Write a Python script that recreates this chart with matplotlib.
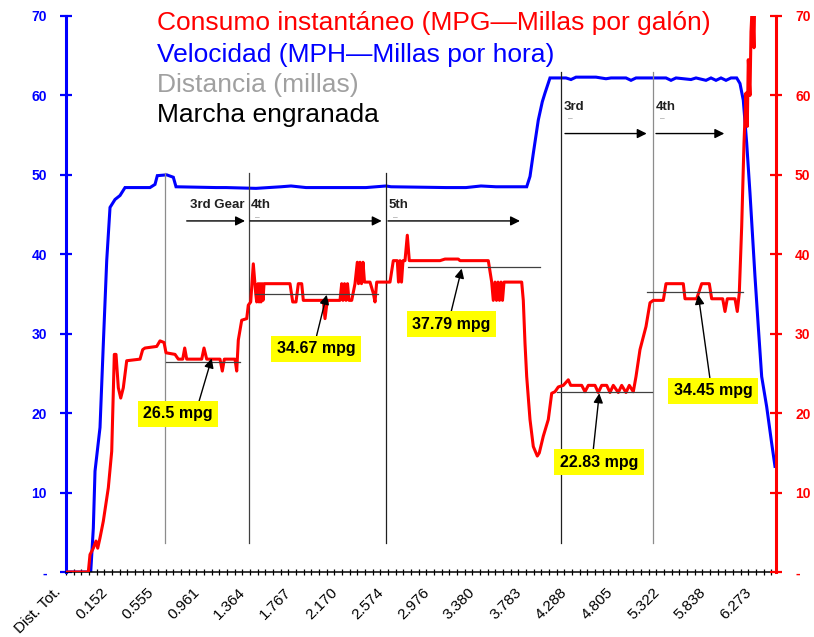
import matplotlib.pyplot as plt
import numpy as np
from matplotlib.transforms import ScaledTranslation

# -----------------------------------------------------------------------------------------------
# Fuente (equivalente métrico de Arial).
plt.rcParams['font.family'] = ['Liberation Sans', 'DejaVu Sans']

# -----------------------------------------------------------------------------------------------
# DATOS
# Eje x: índice de registro (una etiqueta cada 46 registros).
etiquetas_x = ["Dist. Tot.", "0.152", "0.555", "0.961", "1.364", "1.767", "2.170", "2.574",
               "2.976", "3.380", "3.783", "4.288", "4.805", "5.322", "5.838", "6.273"]

# Velocidad (MPH).
vel_x = [0, 24.7, 27.3, 29, 34, 37.3, 40.7, 44, 49, 54, 59, 84, 89, 91.3, 100.7, 107.3, 110,
         150, 160, 190, 215, 225, 240, 300, 320, 325, 380, 400, 415, 430, 455, 460.7, 464,
         467.3, 472.3, 476.3, 479, 484, 500, 505, 510, 530, 540, 545, 560, 565, 570, 600,
         605, 610, 625, 630, 640, 645, 650, 655, 660, 665, 670.7, 674, 677.3, 680.7, 684,
         689, 692.3, 695.7, 700.7, 705.7, 709]
vel_mph = [0, 0, 5.5, 12.7, 18.2, 28.7, 39.2, 45.9, 46.9, 47.4, 48.4, 48.4, 48.8, 49.9, 50.0,
           49.7, 48.5, 48.4, 48.4, 48.3, 48.5, 48.6, 48.4, 48.4, 48.6, 48.5, 48.4, 48.4, 48.6,
           48.5, 48.5, 48.5, 49.8, 52.7, 56.9, 59.2, 60.3, 62.2, 62.2, 62.0, 62.3, 62.3, 62.1,
           62.2, 62.2, 61.9, 62.2, 62.2, 61.9, 62.2, 62.0, 62.2, 61.9, 62.2, 61.9, 62.2, 61.9,
           62.2, 62.2, 61.5, 59.4, 54.0, 47.7, 37.2, 30.9, 24.6, 20.8, 16.2, 13.3]

# Consumo instantáneo (MPG).
mpg_x = [0, 22.3, 24, 27.3, 30, 31.7, 34, 37.3, 42.3, 45.7, 47.3, 48.3, 50, 52.3, 54.7, 57.3,
         60.7, 74, 76.7, 79, 90.7, 94, 98, 100, 109, 112.3, 116.7, 118.7, 120.7, 135.7, 138,
         140.7, 154, 156.3, 158.3, 169, 170.7, 172.3, 175.7, 180.7, 182.3, 184.7, 187.3, 189.7,
         190.7, 192, 193, 194, 195, 196, 197, 198, 224, 226.7, 230, 232.3, 235.7, 237.3, 257.3,
         259, 261.3, 274, 275.7, 277, 278.5, 280, 281.5, 283, 285.7, 289, 291.3, 292.5, 294,
         295.5, 297, 298.5, 304, 307.3, 309, 310.7, 324, 327.3, 331.3, 332.5, 334, 335.5, 337,
         339, 341.3, 343.3, 374, 379, 392.3, 394, 422.3, 425.7, 427.3, 429, 430.5, 432, 433.5,
         435, 436.5, 438, 440, 455.7, 457.3, 459, 460.7, 464, 467.3, 471.3, 473.3, 477.3,
         482.3, 485.7, 489, 492.3, 497.3, 502.3, 504.7, 515.7, 519, 522.3, 529, 532.3, 535.7,
         540.7, 544, 547.3, 552.3, 555.7, 560, 563.3, 567.3, 570, 574, 580, 584, 587.3, 597.3,
         600, 617.3, 619, 630.7, 635.7, 643.3, 645.7, 656.7, 659, 661.3, 669, 671.3, 673.3,
         675.7, 678, 680, 681.3, 682.3, 684, 685, 686.5, 688, 689]
mpg_val = [0, 0, 2.2, 3.0, 3.9, 3.0, 4.3, 6.4, 10.6, 15.2, 22.4, 27.4, 27.4, 23.2, 21.9, 23.2,
           26.6, 26.8, 28.0, 28.2, 28.4, 29.1, 28.9, 27.6, 27.4, 26.8, 26.8, 28.2, 26.8, 26.8,
           28.2, 26.8, 26.8, 25.3, 26.8, 26.8, 25.3, 29.2, 31.7, 31.9, 33.6, 34.0, 38.8, 35.1,
           34.0, 36.3, 34.0, 36.3, 34.0, 36.3, 34.2, 36.3, 36.3, 34.0, 34.0, 36.3, 36.3, 34.2,
           34.2, 31.9, 34.2, 34.2, 36.3, 34.2, 36.3, 34.2, 36.3, 34.2, 34.2, 36.3, 39.0, 36.3,
           39.0, 36.3, 39.0, 36.5, 36.5, 35.1, 34.0, 36.5, 36.5, 39.2, 39.2, 36.5, 39.2, 36.5,
           39.2, 39.2, 42.4, 39.2, 39.2, 39.4, 39.4, 39.2, 39.2, 36.5, 34.2, 36.5, 34.2, 36.5,
           34.2, 36.5, 34.2, 36.5, 36.5, 36.5, 34.2, 28.8, 24.6, 19.2, 15.8, 14.6, 15.0, 17.1,
           19.2, 22.5, 22.7, 23.3, 23.5, 24.2, 23.5, 23.5, 22.7, 23.5, 23.5, 22.6, 23.5, 23.5,
           22.6, 23.5, 22.6, 23.5, 22.6, 23.5, 22.7, 24.6, 28.0, 30.9, 33.9, 34.2, 34.2, 36.3,
           36.3, 34.4, 34.4, 36.3, 36.3, 34.4, 34.4, 32.8, 34.4, 34.4, 32.8, 35.1, 43.5, 54.0,
           60.3, 56.1, 64.5, 60.0, 68.0, 72.0, 66.0, 75.0]

# Cambios de marcha (líneas verticales).
cambio_x = [99, 182.5, 320, 495, 587]
cambio_sup = [50.2, 50.2, 50.2, 62.9, 62.9]
cambio_inf = 3.65

# Etiquetas de marcha y flechas.
marcha_txt = ["3rd Gear", "4th", "5th", "3rd", "4th"]
marcha_x = [124, 184.7, 323, 498, 590]
marcha_y = [46.2, 46.2, 46.2, 58.6, 58.6]
flecha_x0 = [120.7, 184, 322, 499, 590]
flecha_x1 = [179, 315.7, 454, 580.7, 658.3]
flecha_y = [44.2, 44.2, 44.2, 55.2, 55.2]

# Consumos promedio por tramo.
prom_txt = ["26.5 mpg", "34.67 mpg", "37.79 mpg", "22.83 mpg", "34.45 mpg"]
prom_x0 = [100, 189, 342, 490.7, 580.7]
prom_x1 = [174, 312, 474, 585.7, 676.7]
prom_y = [26.4, 35.0, 38.4, 22.7, 35.2]
punta_x = [145.7, 260.7, 395.7, 533.3, 632.3]
punta_y = [26.9, 34.9, 38.2, 22.5, 34.9]
caja_x = [112, 250, 385.5, 533, 647]
caja_y = [19.9, 28.1, 31.2, 13.8, 22.8]
caja_rel = [0.78, 0.49, 0.48, 0.42, 0.47]

# -----------------------------------------------------------------------------------------------
# FIGURA
fig = plt.figure(figsize=(8.14, 6.37), dpi=100)
ax = fig.add_axes([0.0811, 0.1020, 0.8722, 0.8729])
ax2 = ax.twinx()

# Velocidad (azul).
ax.plot(vel_x, vel_mph, color="#0000FF", lw=2.2, solid_joinstyle="miter")

# Líneas de cambio de marcha.
colores_cambio = ["#8c8c8c", "#404040", "#202020", "#202020", "#8c8c8c"]
for i in range(len(cambio_x)):
    ax.plot([cambio_x[i], cambio_x[i]], [cambio_inf, cambio_sup[i]], color=colores_cambio[i], lw=0.9)

# Etiquetas de marcha y flechas.
for i in range(len(marcha_txt)):
    ax.text(marcha_x[i], marcha_y[i], marcha_txt[i], fontsize=9.5, fontweight="bold",
            ha="left", va="center", color="#202020")
    if i > 0:
        ax.text(marcha_x[i] + 4, marcha_y[i] - 1.6, "–", fontsize=6, color="#808080",
                ha="left", va="center")
    ax.annotate("", xy=(flecha_x1[i], flecha_y[i]), xytext=(flecha_x0[i], flecha_y[i]),
                arrowprops=dict(arrowstyle="-|>", color="black", lw=1.0, mutation_scale=14,
                                shrinkA=0, shrinkB=0))

# Consumo instantáneo (rojo), encima de la velocidad.
ax2.plot(mpg_x, mpg_val, color="#FF0000", lw=2.2)

# Promedios y cuadros amarillos.
for i in range(len(prom_txt)):
    ax2.plot([prom_x0[i], prom_x1[i]], [prom_y[i], prom_y[i]], color="#404040", lw=0.9)
    ax2.annotate(prom_txt[i], xy=(punta_x[i], punta_y[i]), xytext=(caja_x[i], caja_y[i]),
                 fontsize=11.5, fontweight="bold", ha="center", va="center",
                 bbox=dict(boxstyle="square,pad=0.35", fc="#FFFF00", ec="none"),
                 arrowprops=dict(arrowstyle="-|>", color="black", lw=1.0, mutation_scale=14,
                                 shrinkA=0, shrinkB=0, relpos=(caja_rel[i], 1.0)))

# -----------------------------------------------------------------------------------------------
# EJES
for a in [ax, ax2]:
    a.set_xlim(0, 710)
    a.set_ylim(0, 70)

etiquetas_y = ["-", "10", "20", "30", "40", "50", "60", "70"]
ax.set_yticks(np.arange(0, 71, 10))
ax.set_yticklabels(etiquetas_y)
ax2.set_yticks(np.arange(0, 71, 10))
ax2.set_yticklabels(etiquetas_y)

ax.tick_params(axis="y", colors="#0000FF", direction="inout", length=8.6, width=1.6, pad=9.4,
               labelsize=10)
ax2.tick_params(axis="y", colors="#FF0000", direction="inout", length=8.6, width=1.6, pad=9.4,
                labelsize=10)
for lab in ax.get_yticklabels():
    lab.set_fontweight("bold")
for lab in ax2.get_yticklabels():
    lab.set_fontweight("bold")

ax.set_xticks(np.arange(16) * 46)
ax.set_xticks(np.arange(0, 711, 46 / 6), minor=True)
ax.set_xticklabels(etiquetas_x, rotation=45, ha="right", va="center", rotation_mode="anchor",
                   fontsize=11)
ax.tick_params(axis="x", which="both", direction="inout", length=5, width=0.9, color="black",
               pad=10.5)
desplazamiento = ScaledTranslation(-7 / 100, 0, fig.dpi_scale_trans)
for lab in ax.get_xticklabels():
    lab.set_transform(lab.get_transform() + desplazamiento)
ax2.tick_params(axis="x", which="both", length=0)

ax.spines["left"].set_color("#0000FF")
ax.spines["left"].set_linewidth(2.2)
ax.spines["bottom"].set_color("black")
ax.spines["bottom"].set_linewidth(1.1)
ax.spines["top"].set_visible(False)
ax.spines["right"].set_visible(False)
ax2.spines["right"].set_color("#FF0000")
ax2.spines["right"].set_linewidth(2.2)
ax2.spines["left"].set_visible(False)
ax2.spines["top"].set_visible(False)
ax2.spines["bottom"].set_visible(False)

# -----------------------------------------------------------------------------------------------
# LEYENDA (texto superior)
fig.text(0.193, 0.964, "Consumo instantáneo (MPG—Millas por galón)", color="#FF0000",
         fontsize=19, va="center", ha="left")
fig.text(0.193, 0.9137, "Velocidad (MPH—Millas por hora)", color="#0000FF",
         fontsize=19, va="center", ha="left")
fig.text(0.193, 0.8666, "Distancia (millas)", color="#A0A0A0",
         fontsize=19, va="center", ha="left")
fig.text(0.193, 0.8195, "Marcha engranada", color="black",
         fontsize=19, va="center", ha="left")

fig.savefig("out.png", dpi=100)
